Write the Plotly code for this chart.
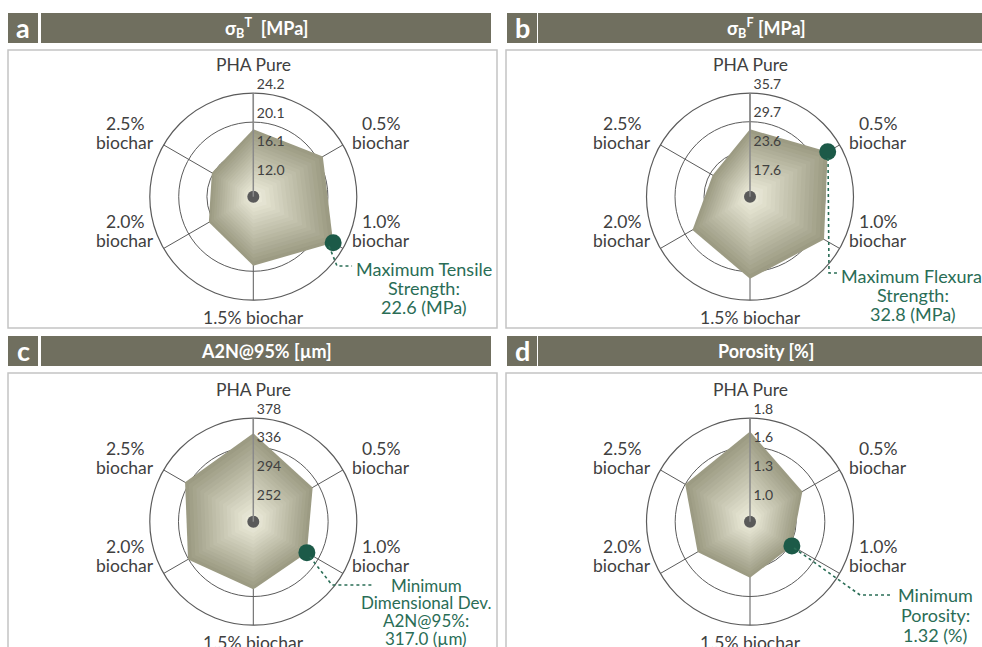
import plotly.graph_objects as go

W, H = 982, 647

# ---------------- data ----------------
categories = ["PHA Pure", "0.5% biochar", "1.0% biochar", "1.5% biochar", "2.0% biochar", "2.5% biochar"]
category_labels = ["PHA Pure", "0.5%<br>biochar", "1.0%<br>biochar", "1.5% biochar", "2.0%<br>biochar", "2.5%<br>biochar"]

tensile_mpa = [19.1, 20.9, 22.6, 19.3, 16.8, 16.3]
flexural_mpa = [28.1, 32.8, 31.9, 31.2, 27.9, 23.0]
a2n95_um = [355.8, 326.8, 317.0, 325.5, 336.8, 341.8]
porosity_pct = [1.70, 1.43, 1.32, 1.39, 1.43, 1.56]

tensile_ticks = [12.0, 16.1, 20.1, 24.2]
tensile_ticktext = ["12.0", "16.1", "20.1", "24.2"]
flexural_ticks = [17.6, 23.6, 29.7, 35.7]
flexural_ticktext = ["17.6", "23.6", "29.7", "35.7"]
a2n95_ticks = [252, 294, 336, 378]
a2n95_ticktext = ["252", "294", "336", "378"]
porosity_ticks = [1.04, 1.30, 1.56, 1.82]
porosity_ticktext = ["1.0", "1.3", "1.6", "1.8"]

panel_letters = ["a", "b", "c", "d"]
panel_titles = ["σ<sub>B</sub><sup>T</sup>  [MPa]", "σ<sub>B</sub><sup>F</sup> [MPa]", "A2N@95% [µm]", "Porosity [%]"]
highlight_index = [2, 1, 2, 2]
highlight_text = [
    "Maximum Tensile<br>Strength:<br>22.6 (MPa)",
    "Maximum Flexural<br>Strength:<br>32.8 (MPa)",
    "Minimum<br>Dimensional Dev.<br>A2N@95%:<br>317.0 (µm)",
    "Minimum<br>Porosity:<br>1.32 (%)",
]

# ---------------- styling / layout ----------------
FONT = "Lato"
HEADER = "#706f5f"
GRID = "#5b5b5b"
TXT = "#404040"
GREEN_M = "#1c5a48"
GREEN_T = "#2a6d56"
EDGE_RGB = (156, 155, 131)
CENTER_RGB = (238, 237, 220)
NB = "\u00a0"


def px(x):
    return x / W


def py(y):
    return 1 - y / H


def tick_label(s):
    # second (blank) line lifts the label just above its ring, right of the axis line
    return s + "<br>" + NB


panels = [
    dict(values=tensile_mpa, ticks=tensile_ticks, ticktext=tensile_ticktext, cx=253.3, cy=196.7),
    dict(values=flexural_mpa, ticks=flexural_ticks, ticktext=flexural_ticktext, cx=750.0, cy=196.7),
    dict(values=a2n95_um, ticks=a2n95_ticks, ticktext=a2n95_ticktext, cx=253.3, cy=521.7),
    dict(values=porosity_pct, ticks=porosity_ticks, ticktext=porosity_ticktext, cx=750.0, cy=521.7),
]
RADIUS = 103.5
label_offsets = [(0, -132), (128, -73), (128, 25), (0, 121), (-128, 25), (-128, -73)]
LABEL_LINE = 18.5

fig = go.Figure()
layout_polars = {}
annotations = []
shapes = []

n_layers = 18
for i, p in enumerate(panels):
    name = "polar" if i == 0 else f"polar{i + 1}"
    t = p["ticks"]
    step = (t[-1] - t[0]) / 3
    rmin = t[0] - 0.61 * step
    vals = p["values"]
    theta = categories + [categories[0]]
    # shaded area with path-style gradient (nested scaled copies of the same data)
    for L in range(n_layers):
        k = 1 - L / n_layers
        f = L / (n_layers - 1)
        col = tuple(int(round(EDGE_RGB[c] + (CENTER_RGB[c] - EDGE_RGB[c]) * f)) for c in range(3))
        rr = [rmin + (v - rmin) * k for v in vals]
        rr = rr + [rr[0]]
        fig.add_trace(go.Scatterpolar(
            r=rr, theta=theta, subplot=name, mode="lines", fill="toself",
            fillcolor="rgb(%d,%d,%d)" % col, line=dict(width=0, color="rgb(%d,%d,%d)" % col),
            hoverinfo="skip", showlegend=False))
    # center dot
    fig.add_trace(go.Scatterpolar(
        r=[rmin], theta=[categories[0]], subplot=name, mode="markers",
        marker=dict(size=12, color="#5a5a5a"), hoverinfo="skip", showlegend=False))
    # highlighted point
    hi = highlight_index[i]
    fig.add_trace(go.Scatterpolar(
        r=[vals[hi]], theta=[categories[hi]], subplot=name, mode="markers",
        marker=dict(size=17, color=GREEN_M), hoverinfo="skip", showlegend=False))

    cx, cy = p["cx"], p["cy"]
    layout_polars[name] = dict(
        domain=dict(x=[px(cx - RADIUS), px(cx + RADIUS)], y=[py(cy + RADIUS), py(cy - RADIUS)]),
        bgcolor="rgba(0,0,0,0)",
        radialaxis=dict(
            range=[rmin, t[-1]], tickvals=t, ticktext=[tick_label(s) for s in p["ticktext"]],
            angle=90, tickangle=90,
            showline=True, linecolor="#8a8a8a", linewidth=1.5,
            gridcolor=GRID, gridwidth=1.2, ticks="", layer="above traces",
            tickfont=dict(family=FONT, size=14, color=TXT), side="clockwise",
        ),
        angularaxis=dict(
            type="category", categoryarray=categories, showticklabels=False,
            direction="clockwise", rotation=90,
            showline=True, linecolor=GRID, linewidth=1.2,
            gridcolor=GRID, gridwidth=1.2, ticks="", layer="above traces",
        ),
    )
    # category labels around the radar
    for j, lab in enumerate(category_labels):
        ox, oy = label_offsets[j]
        for li, line in enumerate(lab.split("<br>")):
            annotations.append(dict(x=px(cx + ox), y=py(cy + oy + li * LABEL_LINE), xref="paper", yref="paper",
                                    text=line, showarrow=False, xanchor="center", yanchor="middle",
                                    font=dict(family=FONT, size=17.5, color=TXT)))

# panel frames
frames = [(8, 50, 497, 328), (506, 50, 990, 328), (8, 373, 497, 660), (506, 373, 990, 660)]
for (x0, y0, x1, y1) in frames:
    shapes.append(dict(type="rect", xref="paper", yref="paper", x0=px(x0), x1=px(x1), y0=py(y1), y1=py(y0),
                       line=dict(color="#c4c4c4", width=1.5), fillcolor="rgba(0,0,0,0)", layer="below"))

# headers
headers = [(8, 41, 491, 13, 43), (507, 538, 994, 13, 43), (8, 41, 491, 336, 366), (507, 538, 994, 336, 366)]
for i, (lx, bx0, bx1, y0, y1) in enumerate(headers):
    shapes.append(dict(type="rect", xref="paper", yref="paper", x0=px(lx), x1=px(lx + 30), y0=py(y1), y1=py(y0),
                       line=dict(width=0), fillcolor=HEADER, layer="below"))
    shapes.append(dict(type="rect", xref="paper", yref="paper", x0=px(bx0), x1=px(bx1), y0=py(y1), y1=py(y0),
                       line=dict(width=0), fillcolor=HEADER, layer="below"))
    annotations.append(dict(x=px(lx + 15), y=py((y0 + y1) / 2 - 1), xref="paper", yref="paper",
                            text="<b>%s</b>" % panel_letters[i], showarrow=False,
                            font=dict(family=FONT, size=27, color="white"), xanchor="center", yanchor="middle"))
    annotations.append(dict(x=px((bx0 + bx1) / 2), y=py((y0 + y1) / 2), xref="paper", yref="paper",
                            text="<b>%s</b>" % panel_titles[i], showarrow=False,
                            font=dict(family=FONT, size=18, color="white"), xanchor="center", yanchor="middle"))

# callout leader lines and texts
leaders = [
    [(329, 246), (337, 266), (352, 266)],
    [(828, 158), (829, 273), (837, 273)],
    [(310, 557), (332, 585), (374, 585)],
    [(794, 548), (860, 595), (893, 595)],
]
callout_first = [(424, 269), (913, 276), (426, 585), (935, 595)]
callout_line = [19, 19, 17.8, 20]
callout_size = [18, 18, 17, 18]
for i in range(4):
    pts = leaders[i]
    path = "M " + " L ".join("%.4f,%.4f" % (px(x), py(y)) for x, y in pts)
    shapes.append(dict(type="path", xref="paper", yref="paper", path=path,
                       line=dict(color=GREEN_T, width=1.6, dash="dot")))
    tx, ty = callout_first[i]
    for li, line in enumerate(highlight_text[i].split("<br>")):
        annotations.append(dict(x=px(tx), y=py(ty + li * callout_line[i]), xref="paper", yref="paper", text=line,
                                showarrow=False, xanchor="center", yanchor="middle",
                                font=dict(family=FONT, size=callout_size[i], color=GREEN_T)))

fig.update_layout(
    width=W, height=H, margin=dict(l=0, r=0, t=0, b=0),
    paper_bgcolor="white", plot_bgcolor="white",
    shapes=shapes, annotations=annotations, showlegend=False,
    **layout_polars,
)

fig.write_html("out.html", include_plotlyjs=True, config={"displayModeBar": False},
               post_script="document.body.style.margin='0px';document.body.style.overflow='hidden';")
